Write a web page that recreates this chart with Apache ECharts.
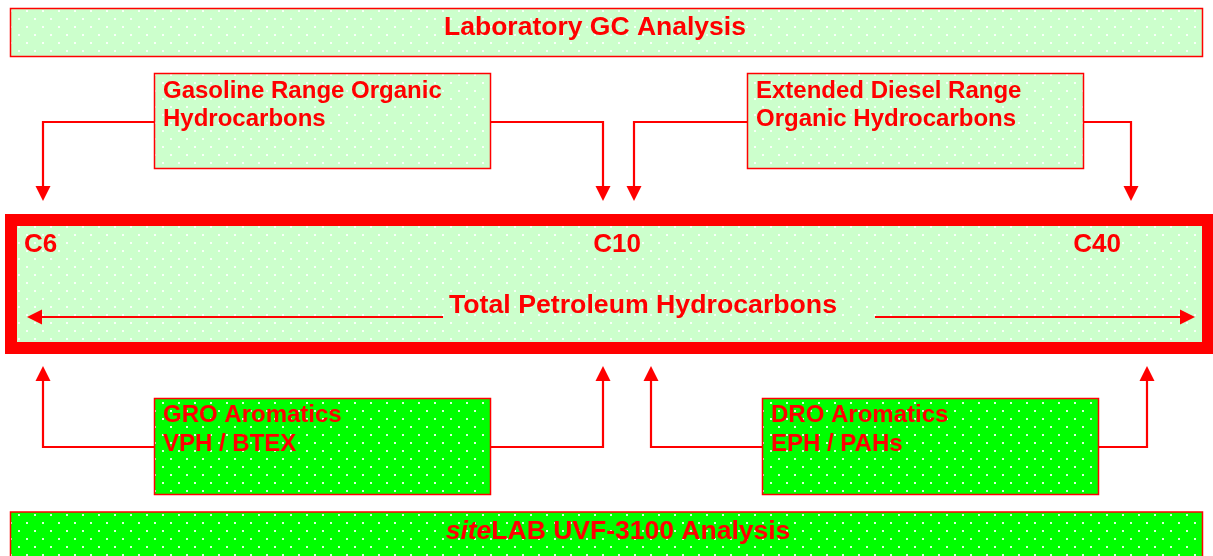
<!DOCTYPE html>
<html><head><meta charset="utf-8">
<script src="https://cdn.jsdelivr.net/npm/echarts@6/dist/echarts.min.js"></script>
<style>html,body{margin:0;padding:0;background:#fff}#c{width:1213px;height:556px}</style>
</head><body><div id="c"></div>
<script>
// ---- content ----
const headerTitle = ['Laboratory GC Analysis'];
const upperBoxLines = [['Gasoline Range Organic', 'Hydrocarbons'], ['Extended Diesel Range', 'Organic Hydrocarbons']];
const carbonLabels = ['C6', 'C10', 'C40'];
const rangeTitle = ['Total Petroleum Hydrocarbons'];
const lowerBoxLines = [['GRO Aromatics', 'VPH / BTEX'], ['DRO Aromatics', 'EPH / PAHs']];
const footerParts = ['site', 'LAB UVF-3100 Analysis'];

// ---- styles / layout ----
const RED = '#ff0000';
const FONT = 'Liberation Sans';

function makePattern(bg) {
  const c = document.createElement('canvas');
  c.width = 16; c.height = 16;
  const g = c.getContext('2d');
  g.fillStyle = bg; g.fillRect(0, 0, 16, 16);
  g.fillStyle = 'rgba(255,255,255,0.85)';
  g.fillRect(2, 2, 2, 2);
  g.fillRect(10, 10, 2, 2);
  return { image: c, repeat: 'repeat' };
}
const lightFill = makePattern('#ccffcc');
const brightFill = makePattern('#00ff00');

const els = [];
function rect(x, y, w, h, fill, lw) {
  els.push({ type: 'rect', z: 1, shape: { x, y, width: w, height: h },
    style: { fill, stroke: RED, lineWidth: lw } });
}
function line(pts) {
  els.push({ type: 'polyline', z: 2, shape: { points: pts },
    style: { stroke: RED, lineWidth: 2.2, fill: null } });
}
function tri(pts) {
  els.push({ type: 'polygon', z: 3, shape: { points: pts }, style: { fill: RED } });
}
function arrowDown(x, yTip) { tri([[x - 7.5, yTip - 15], [x + 7.5, yTip - 15], [x, yTip]]); }
function arrowUp(x, yTip) { tri([[x - 7.5, yTip + 15], [x + 7.5, yTip + 15], [x, yTip]]); }
function text(str, x, y, size, align) {
  els.push({ type: 'text', z: 4, x, y,
    style: { text: str, fill: RED, fontFamily: FONT, fontWeight: 'bold', fontSize: size,
      textAlign: align || 'left', textVerticalAlign: 'middle' } });
}

// top header
rect(10.5, 8.5, 1192, 48, lightFill, 1.5);
text(headerTitle[0], 595, 27.5, 26.5, 'center');

// upper boxes
const upperBoxX = [154.5, 747.5];
upperBoxLines.forEach((lines, i) => {
  rect(upperBoxX[i], 73.5, 336, 95, lightFill, 1.5);
  lines.forEach((l, j) => text(l, upperBoxX[i] + 8.5, 91.5 + j * 28, 24));
});
line([[154, 122], [43, 122], [43, 188]]); arrowDown(43, 201);
line([[491, 122], [603, 122], [603, 188]]); arrowDown(603, 201);
line([[747, 122], [634, 122], [634, 188]]); arrowDown(634, 201);
line([[1084, 122], [1131, 122], [1131, 188]]); arrowDown(1131, 201);

// main range box
rect(11, 220, 1197, 128, lightFill, 12);
text(carbonLabels[0], 24, 244.5, 26, 'left');
text(carbonLabels[1], 617, 244.5, 26, 'center');
text(carbonLabels[2], 1097, 244.5, 26, 'center');
text(rangeTitle[0], 643, 305.5, 26.7, 'center');
els.push({ type: 'line', z: 2, shape: { x1: 443, y1: 317, x2: 40, y2: 317 }, style: { stroke: RED, lineWidth: 2.2 } });
tri([[42, 309.5], [42, 324.5], [27, 317]]);
els.push({ type: 'line', z: 2, shape: { x1: 875, y1: 317, x2: 1182, y2: 317 }, style: { stroke: RED, lineWidth: 2.2 } });
tri([[1180, 309.5], [1180, 324.5], [1195, 317]]);

// lower boxes
const lowerBoxX = [154.5, 762.5];
lowerBoxLines.forEach((lines, i) => {
  rect(lowerBoxX[i], 398.5, 336, 96, brightFill, 1.5);
  lines.forEach((l, j) => text(l, lowerBoxX[i] + 8.5, 415.5 + j * 29, 24));
});
line([[155, 447], [43, 447], [43, 378]]); arrowUp(43, 366);
line([[491, 447], [603, 447], [603, 378]]); arrowUp(603, 366);
line([[763, 447], [651, 447], [651, 378]]); arrowUp(651, 366);
line([[1098, 447], [1147, 447], [1147, 378]]); arrowUp(1147, 366);

// footer
rect(10.5, 512, 1192, 60, brightFill, 1.5);
els.push({ type: 'text', z: 4, x: 618, y: 531.5,
  style: { text: '{i|' + footerParts[0] + '}{b|' + footerParts[1] + '}',
    textAlign: 'center', textVerticalAlign: 'middle',
    rich: {
      i: { fill: RED, fontStyle: 'italic', fontWeight: 'bold', fontSize: 26.5, fontFamily: FONT },
      b: { fill: RED, fontWeight: 'bold', fontSize: 26.5, fontFamily: FONT }
    } } });

const chart = echarts.init(document.getElementById('c'), null, { renderer: 'canvas' });
chart.setOption({ animation: false, graphic: { elements: els } });
</script></body></html>
